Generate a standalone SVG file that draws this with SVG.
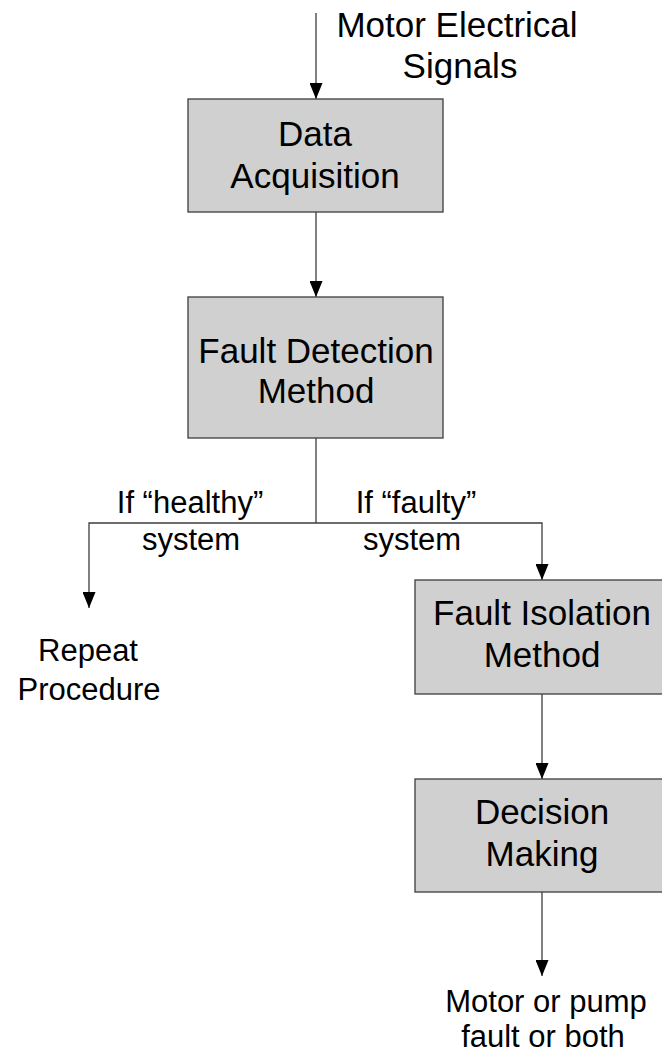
<svg xmlns="http://www.w3.org/2000/svg" width="662" height="1053" viewBox="0 0 662 1053">
  <style>
    .box { fill: #d0d0d0; stroke: #3c3c3c; stroke-width: 1.3; }
    .t { font-family: "Liberation Sans", Arial, sans-serif; fill: #000; text-anchor: middle; }
    .big { font-size: 35px; }
    .small { font-size: 31px; }
    .wire { fill: none; stroke: #3c3c3c; stroke-width: 1.3; }
  </style>
  <defs>
    <!-- filled triangular arrowhead, tip at the end of the line -->
    <marker id="arrow" markerWidth="16" markerHeight="13" refX="16" refY="6.5" orient="auto" markerUnits="userSpaceOnUse" viewBox="0 0 16 13">
      <path d="M0,0 L16,6.5 L0,13 Z" fill="#000"/>
    </marker>
  </defs>

  <rect width="662" height="1053" fill="#fff"/>

  <g id="connectors">
    <line class="wire" x1="316" y1="13" x2="316" y2="99" marker-end="url(#arrow)"/>
    <line class="wire" x1="316" y1="212" x2="316" y2="297" marker-end="url(#arrow)"/>
    <line class="wire" x1="316" y1="438" x2="316" y2="523"/>
    <polyline class="wire" points="316,523 89,523 89,608" marker-end="url(#arrow)"/>
    <polyline class="wire" points="316,523 542,523 542,580" marker-end="url(#arrow)"/>
    <line class="wire" x1="542" y1="694" x2="542" y2="779" marker-end="url(#arrow)"/>
    <line class="wire" x1="542" y1="892" x2="542" y2="976" marker-end="url(#arrow)"/>
  </g>

  <g id="input-label">
    <text class="t big" x="457" y="37">Motor Electrical</text>
    <text class="t big" x="460" y="78">Signals</text>
  </g>

  <g id="data-acquisition">
    <rect class="box" x="188" y="99" width="255" height="113"/>
    <text class="t big" x="315" y="146">Data</text>
    <text class="t big" x="315" y="188">Acquisition</text>
  </g>

  <g id="fault-detection">
    <rect class="box" x="188" y="297" width="255" height="141"/>
    <text class="t big" x="316" y="363">Fault Detection</text>
    <text class="t big" x="316" y="403">Method</text>
  </g>

  <g id="branch-labels">
    <text class="t small" x="190" y="513">If “healthy”</text>
    <text class="t small" x="191" y="550">system</text>
    <text class="t small" x="416" y="513">If “faulty”</text>
    <text class="t small" x="412" y="550">system</text>
  </g>

  <g id="repeat-procedure">
    <text class="t small" x="88" y="661">Repeat</text>
    <text class="t small" x="89" y="700">Procedure</text>
  </g>

  <g id="fault-isolation">
    <rect class="box" x="415" y="580" width="260" height="114"/>
    <text class="t big" x="542" y="625">Fault Isolation</text>
    <text class="t big" x="542" y="667">Method</text>
  </g>

  <g id="decision-making">
    <rect class="box" x="415" y="779" width="260" height="113"/>
    <text class="t big" x="542" y="824">Decision</text>
    <text class="t big" x="542" y="866">Making</text>
  </g>

  <g id="output-label">
    <text class="t small" x="546" y="1012">Motor or pump</text>
    <text class="t small" x="543" y="1047">fault or both</text>
  </g>
</svg>
